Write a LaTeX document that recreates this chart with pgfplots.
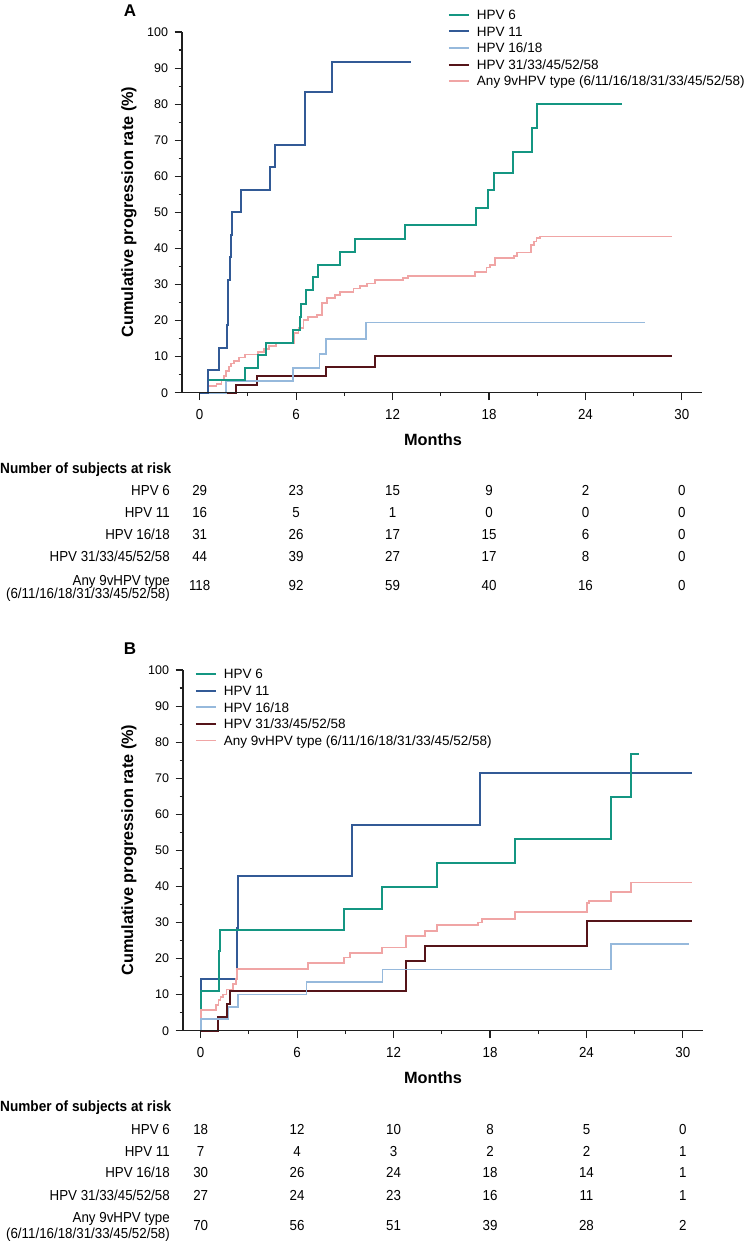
\documentclass[border=0pt]{standalone}
\usepackage{pgfplots}
\pgfplotsset{compat=1.18}
\usepackage{fontspec}
\setmainfont{Liberation Sans}
\newfontfamily\narrowfont[FakeStretch=0.92]{Liberation Sans}

\definecolor{cTeal}{RGB}{20,150,130}
\definecolor{cBlue}{RGB}{50,90,150}
\definecolor{cLight}{RGB}{150,185,220}
\definecolor{cMaroon}{RGB}{85,20,25}
\definecolor{cPink}{RGB}{240,165,165}

\newcommand\tickfont{\fontsize{12.5}{14}\selectfont}
\newcommand\xtickfont{\narrowfont\fontsize{14.5}{16}\selectfont}
\newcommand\tabfont{\narrowfont\fontsize{14.5}{16}\selectfont}
\newcommand\headfont{\narrowfont\bfseries\fontsize{14.8}{16}\selectfont}
\newcommand\legfont{\fontsize{13.5}{15}\selectfont}
\newcommand\titlefont{\bfseries\fontsize{16.3}{18}\selectfont}

% one row of the at-risk table: baseline (pt from top), x of month 0, counts
\newcommand\riskrow[3]{%
  \foreach \n [count=\i from 0] in {#3}
    \node[font=\tabfont, anchor=base, inner sep=0pt] at ({(#2+96.44*\i)*1pt},{-#1pt}) {\n};}

\pgfplotsset{
  kmaxis/.style={
    scale only axis, width=520pt, height=360.7pt,
    xmin=-1.1, xmax=31.25, ymin=0, ymax=100,
    axis x line*=bottom, axis y line*=left,
    axis line style={-, line width=1.2pt, black!88},
    xtick={0,6,...,30}, minor xtick={3,9,...,27},
    ytick={0,10,...,100}, minor ytick={5,15,...,95},
    tick align=outside, major tick length=7.5pt, minor tick length=3.5pt,
    every tick/.style={line width=1.1pt, black!88},
    /pgf/number format/assume math mode=true,
    xticklabel style={font=\xtickfont, anchor=base, yshift=-19pt},
    yticklabel style={font=\tickfont, xshift=-3pt},
    axis on top, clip=false,
    legend cell align=left,
    legend style={draw=none, fill=none, inner sep=0pt, outer sep=0pt,
      font=\legfont, row sep=0pt,
      cells={anchor=base west},
      nodes={inner sep=0pt, text height=11.3pt, text depth=5.3pt}},
    legend image code/.code={
      \draw[#1] (0pt,4.8pt) -- (20pt,4.8pt);
      \path[draw=none, fill=none] (0pt,4.8pt) -- (28pt,4.8pt);},
  },
  km/.style={const plot, forget plot, line join=miter},
  s6/.style={cTeal, line width=2pt},
  s11/.style={cBlue, line width=2pt},
  s16/.style={cLight, line width=1.7pt},
  s31/.style={cMaroon, line width=2pt},
  sany/.style={cPink, line width=1.7pt},
}

\begin{document}
\begin{tikzpicture}
\path[use as bounding box] (0pt,0pt) rectangle (746pt,-1241pt);

% ---------------- Panel A ----------------
\begin{axis}[kmaxis, at={(182pt,-392.7pt)}, anchor=south west,
  legend style={at={(0.5115,1.0659)}, anchor=north west}]
\addlegendimage{s6}\addlegendentry{HPV 6}
\addlegendimage{s11}\addlegendentry{HPV 11}
\addlegendimage{s16}\addlegendentry{HPV 16/18}
\addlegendimage{s31}\addlegendentry{HPV 31/33/45/52/58}
\addlegendimage{sany}\addlegendentry{Any 9vHPV type (6/11/16/18/31/33/45/52/58)}

% Any 9vHPV type
\addplot[km, sany] coordinates {
 (0,0) (0.52,1.85) (1.04,2.5) (1.35,3.4) (1.5,4.7) (1.65,6.0) (1.82,7.3)
 (1.96,8.1) (2.13,8.8) (2.45,9.8) (2.80,10.6) (3.63,11.3) (3.98,12.1)
 (4.3,13.0) (4.76,13.8) (5.87,16.5) (6.14,17.9) (6.45,20.2) (6.76,20.9)
 (7.28,21.5) (7.59,24.8) (7.90,26.2) (8.42,27.1) (8.73,28.0) (9.56,28.9)
 (9.97,29.6) (10.39,30.3) (10.91,31.2) (12.67,31.8) (12.98,32.3)
 (17.13,33.5) (17.85,34.7) (18.06,35.4) (18.37,37.3) (19.55,37.9)
 (19.76,38.9) (20.59,40.9) (20.8,41.9) (20.96,42.8) (21.17,43.3) (29.4,43.3)};
% HPV 31/33/45/52/58
\addplot[km, s31] coordinates {
 (0,0) (2.28,2.27) (3.59,4.6) (7.87,7.2) (10.91,10.2) (29.4,10.2)};
% HPV 16/18
\addplot[km, s16] coordinates {
 (0,0) (1.62,3.23) (5.80,6.9) (7.46,10.8) (7.87,14.9) (10.36,19.5) (27.7,19.5)};
% HPV 6
\addplot[km, s6] coordinates {
 (0,0) (0.5,3.45) (2.81,6.9) (3.62,10.4) (4.14,13.9) (5.80,17.4) (6.26,20.9)
 (6.32,24.7) (6.63,28.4) (7.08,32.0) (7.39,35.5) (8.70,39.1) (9.69,42.6)
 (12.78,46.4) (17.2,51.3) (17.92,56.1) (18.33,61.0) (19.51,66.6)
 (20.65,73.4) (21.0,79.9) (26.27,79.9)};
% HPV 11
\addplot[km, s11] coordinates {
 (0,0) (0.52,6.25) (1.18,12.5) (1.71,18.75) (1.74,25.0) (1.78,31.25)
 (1.86,37.5) (1.93,43.75) (2.01,50.0) (2.58,56.25) (4.39,62.5)
 (4.66,68.75) (6.53,83.3) (8.22,91.7) (13.16,91.7)};
\end{axis}

\node[font=\bfseries\fontsize{17}{19}\selectfont] at (130pt,-11pt) {A};
\node[rotate=90, font=\titlefont] at (129pt,-212pt) {Cumulative progression rate (\%)};
\node[font=\titlefont, anchor=base] at (433pt,-445.1pt) {Months};

\node[font=\headfont, anchor=base west, inner sep=0pt] at (0pt,-473pt) {Number of subjects at risk};
\node[font=\tabfont, anchor=base east, inner sep=0pt] at (170pt,-495.9pt) {HPV 6};
\node[font=\tabfont, anchor=base east, inner sep=0pt] at (170pt,-517.9pt) {HPV 11};
\node[font=\tabfont, anchor=base east, inner sep=0pt] at (170pt,-539.9pt) {HPV 16/18};
\node[font=\tabfont, anchor=base east, inner sep=0pt] at (170pt,-561.2pt) {HPV 31/33/45/52/58};
\node[font=\tabfont, anchor=base east, inner sep=0pt] at (170pt,-585.2pt) {Any 9vHPV type};
\node[font=\tabfont, anchor=base east, inner sep=0pt] at (170pt,-598.5pt) {(6/11/16/18/31/33/45/52/58)};
\riskrow{495.9}{199.7}{29,23,15,9,2,0}
\riskrow{517.9}{199.7}{16,5,1,0,0,0}
\riskrow{539.9}{199.7}{31,26,17,15,6,0}
\riskrow{561.2}{199.7}{44,39,27,17,8,0}
\riskrow{590.9}{199.7}{118,92,59,40,16,0}

% ---------------- Panel B ----------------
\begin{axis}[kmaxis, at={(183pt,-1030.7pt)}, anchor=south west,
  legend style={at={(0.023,1.0068)}, anchor=north west}]
\addlegendimage{s6}\addlegendentry{HPV 6}
\addlegendimage{s11}\addlegendentry{HPV 11}
\addlegendimage{s16}\addlegendentry{HPV 16/18}
\addlegendimage{s31}\addlegendentry{HPV 31/33/45/52/58}
\addlegendimage{sany}\addlegendentry{Any 9vHPV type (6/11/16/18/31/33/45/52/58)}

% HPV 11
\addplot[km, s11] coordinates {
 (0,0) (0,14.3) (2.24,28.6) (2.34,42.9) (9.39,57.1) (17.38,71.4) (30.58,71.4)};
% HPV 6
\addplot[km, s6] coordinates {
 (0,0) (0,11.1) (1.13,22.2) (1.2,27.8) (8.89,33.8) (11.28,39.8) (14.68,46.4)
 (19.55,53.2) (25.53,64.9) (26.75,76.7) (27.29,76.7)};
% Any 9vHPV type
\addplot[km, sany] coordinates {
 (0,0) (0,5.7) (0.95,7.1) (1.1,8.6) (1.24,9.3) (1.37,10.0) (1.6,11.4)
 (2.0,12.9) (2.2,14.3) (2.28,17.1) (6.66,18.7) (8.92,20.3) (9.28,21.6)
 (11.26,23.1) (12.77,26.3) (13.95,27.7) (14.68,29.4) (17.27,30.0)
 (17.52,31.0) (19.55,33.0) (24.05,35.5) (24.17,36.0) (25.53,38.4)
 (26.75,41.1) (30.58,41.1)};
% HPV 31/33/45/52/58
\addplot[km, s31] coordinates {
 (0,0) (1.1,3.7) (1.62,7.4) (1.82,11.1) (12.77,19.3) (13.95,23.5)
 (24.05,30.5) (30.58,30.5)};
% HPV 16/18
\addplot[km, s16] coordinates {
 (0,0) (0,3.33) (1.73,6.67) (2.3,10.0) (6.59,13.6) (11.32,17.0)
 (25.53,24.0) (30.4,24.0)};
\end{axis}

\node[font=\bfseries\fontsize{17}{19}\selectfont] at (130pt,-649pt) {B};
\node[rotate=90, font=\titlefont] at (129pt,-850pt) {Cumulative progression rate (\%)};
\node[font=\titlefont, anchor=base] at (433pt,-1083.1pt) {Months};

\node[font=\headfont, anchor=base west, inner sep=0pt] at (0pt,-1111pt) {Number of subjects at risk};
\node[font=\tabfont, anchor=base east, inner sep=0pt] at (170pt,-1134.5pt) {HPV 6};
\node[font=\tabfont, anchor=base east, inner sep=0pt] at (170pt,-1156.2pt) {HPV 11};
\node[font=\tabfont, anchor=base east, inner sep=0pt] at (170pt,-1177.9pt) {HPV 16/18};
\node[font=\tabfont, anchor=base east, inner sep=0pt] at (170pt,-1200.2pt) {HPV 31/33/45/52/58};
\node[font=\tabfont, anchor=base east, inner sep=0pt] at (170pt,-1222.5pt) {Any 9vHPV type};
\node[font=\tabfont, anchor=base east, inner sep=0pt] at (170pt,-1238.5pt) {(6/11/16/18/31/33/45/52/58)};
\riskrow{1134.5}{200.7}{18,12,10,8,5,0}
\riskrow{1156.2}{200.7}{7,4,3,2,2,1}
\riskrow{1177.9}{200.7}{30,26,24,18,14,1}
\riskrow{1200.2}{200.7}{27,24,23,16,11,1}
\riskrow{1230.2}{200.7}{70,56,51,39,28,2}
\end{tikzpicture}
\end{document}
